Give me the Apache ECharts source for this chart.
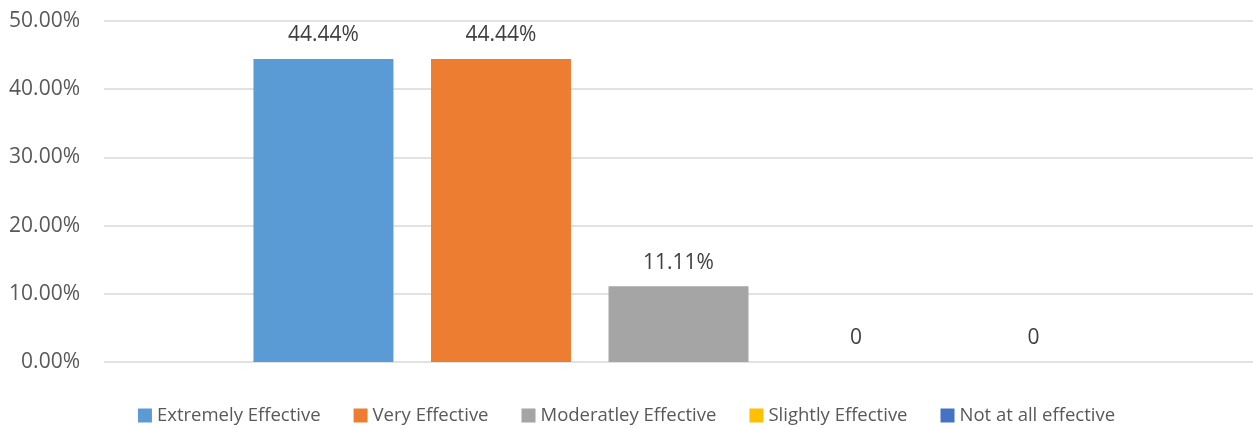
<!DOCTYPE html>
<html><head><meta charset="utf-8">
<script src="https://cdn.jsdelivr.net/npm/echarts@6/dist/echarts.min.js"></script>
<style>html,body{margin:0;padding:0;background:#fff}#c{width:1253px;height:428px}</style>
</head><body><div id="c"></div>
<script>
const categories = ['Effectiveness'];
const seriesNames = ['Extremely Effective', 'Very Effective', 'Moderatley Effective', 'Slightly Effective', 'Not at all effective'];
const seriesValues = [44.44, 44.44, 11.11, 0, 0];
const seriesColors = ['#5B9BD5', '#ED7D31', '#A5A5A5', '#FFC000', '#4472C4'];
const yTicks = [0, 10, 20, 30, 40, 50];

const FONT = 'Open Sans';
const chart = echarts.init(document.getElementById('c'));
chart.setOption({
  animation: false,
  textStyle: { fontFamily: FONT },
  grid: { left: 104, width: 1154, top: 21, bottom: 66, containLabel: false },
  legend: {
    data: seriesNames, top: 401, left: 'center', itemWidth: 14, itemHeight: 14, itemGap: 33,
    icon: 'rect', textStyle: { fontFamily: FONT, fontSize: 18.5, color: '#595959' }
  },
  xAxis: {
    type: 'category', data: categories,
    axisLine: { show: false }, axisTick: { show: false }, axisLabel: { show: false }
  },
  yAxis: {
    type: 'value', min: yTicks[0], max: yTicks[yTicks.length - 1], interval: yTicks[1] - yTicks[0],
    axisLabel: { formatter: v => v.toFixed(2) + '%', fontSize: 21, color: '#595959', margin: 24, fontFamily: FONT },
    splitLine: { lineStyle: { color: '#D9D9D9', width: 1.5 } },
    axisLine: { show: false }, axisTick: { show: false }
  },
  series: seriesNames.map((n, i) => ({
    name: n, type: 'bar', data: [seriesValues[i]], barWidth: 140, barGap: '26.8%',
    itemStyle: { color: seriesColors[i] },
    label: { show: true, position: 'top', distance: 13, fontSize: 21, color: '#404040', fontFamily: FONT,
      formatter: p => p.value === 0 ? '0' : p.value.toFixed(2) + '%' }
  }))
});
</script></body></html>
